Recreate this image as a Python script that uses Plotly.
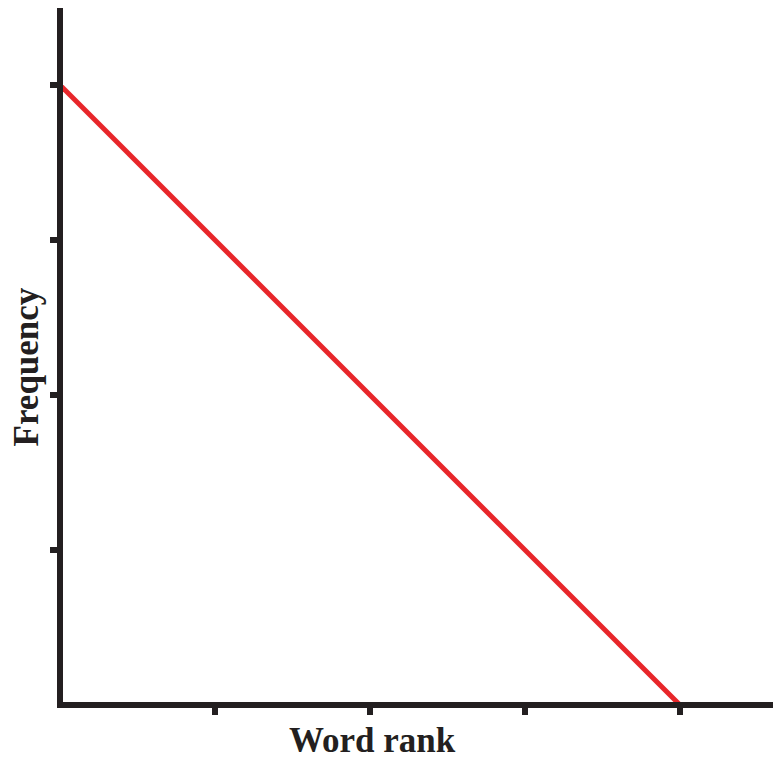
import plotly.graph_objects as go

# Idealised Zipf-style relationship: frequency falls linearly with word rank
word_rank = [0, 4]
frequency = [4, 0]

tick_positions = [1, 2, 3, 4]

ink = "#231f20"
red = "#e8262a"
title_font = dict(family="Liberation Serif", size=35, color=ink, weight="bold")

fig = go.Figure()
fig.add_trace(go.Scatter(
    x=word_rank, y=frequency, mode="lines",
    line=dict(color=red, width=5),
    cliponaxis=False, hoverinfo="skip", showlegend=False,
))

axis_common = dict(
    showgrid=False, zeroline=False, showline=True,
    linecolor=ink, linewidth=6,
    ticks="outside", ticklen=7, tickwidth=6, tickcolor=ink,
    tickvals=tick_positions, showticklabels=False,
)

# 155 px per unit; the zero point lies on the centre of each axis line
fig.update_layout(
    width=773, height=762,
    margin=dict(l=63, r=0, t=8, b=60),
    paper_bgcolor="white", plot_bgcolor="white",
    xaxis=dict(range=[0.0194, 4.6], **axis_common),
    yaxis=dict(range=[0.0194, 4.497], **axis_common),
)

fig.add_annotation(
    text="Word rank", x=0.4366, y=-0.0855, xref="paper", yref="paper",
    showarrow=False, font=title_font, xanchor="center", yanchor="bottom",
    borderpad=0,
)
fig.add_annotation(
    text="Frequency", x=-0.0515, y=0.4827, xref="paper", yref="paper", textangle=-90,
    showarrow=False, font=title_font, xanchor="center", yanchor="middle",
)

fig.write_html("out.html")
